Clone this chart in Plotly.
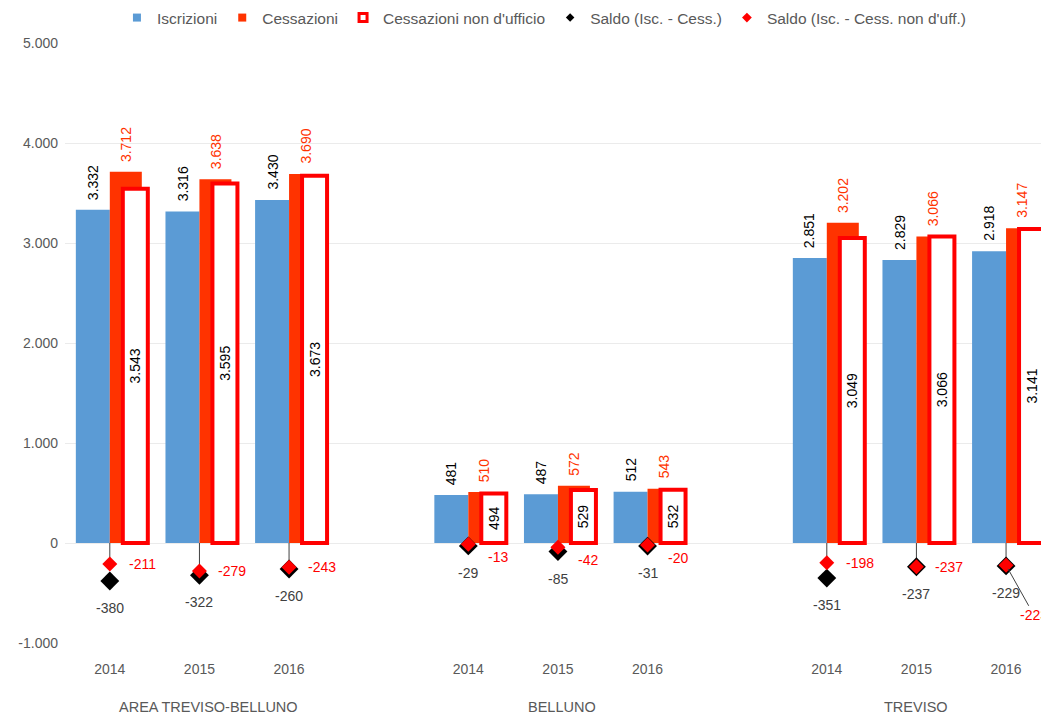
import plotly.graph_objects as go

groups = ["AREA TREVISO-BELLUNO", "BELLUNO", "TREVISO"]
years = ["2014", "2015", "2016"]
iscrizioni = [3332, 3316, 3430, 481, 487, 512, 2851, 2829, 2918]
cessazioni = [3712, 3638, 3690, 510, 572, 543, 3202, 3066, 3147]
cess_non_uff = [3543, 3595, 3673, 494, 529, 532, 3049, 3066, 3141]
saldo = [-380, -322, -260, -29, -85, -31, -351, -237, -229]
saldo_non_uff = [-211, -279, -243, -13, -42, -20, -198, -237, -223]
y_ticks = [-1000, 0, 1000, 2000, 3000, 4000, 5000]
y_tick_labels = ["-1.000", "0", "1.000", "2.000", "3.000", "4.000", "5.000"]

FONT = "Liberation Sans, Arial, sans-serif"
GRAY = "#595959"
BLUE = "#5B9BD5"
ORANGE = "#FF3300"
RED = "#FF0000"


def fmt(v):
    return f"{v:,}".replace(",", ".")


# slot positions: one empty slot between groups
xs = [g * 4 + y for g in range(len(groups)) for y in range(len(years))]
tick_text = [years[y] for g in range(len(groups)) for y in range(len(years))]

BW_BLUE, OFF_BLUE = 0.379, -0.379
BW_OR, OFF_OR = 0.357, 0.0
BW_OUT, OFF_OUT = 0.279, 0.145

fig = go.Figure()

fig.add_trace(go.Bar(x=xs, y=iscrizioni, offset=OFF_BLUE, width=BW_BLUE,
                     marker=dict(color=BLUE, line=dict(width=0)),
                     showlegend=False, name="Iscrizioni"))
fig.add_trace(go.Bar(x=xs, y=cessazioni, offset=OFF_OR, width=BW_OR,
                     marker=dict(color=ORANGE, line=dict(width=0)),
                     showlegend=False, name="Cessazioni"))
fig.add_trace(go.Bar(x=xs, y=cess_non_uff, offset=OFF_OUT, width=BW_OUT,
                     marker=dict(color="white", line=dict(color=RED, width=4)),
                     text=[fmt(v) for v in cess_non_uff], textposition="inside",
                     textangle=-90, insidetextanchor="middle",
                     textfont=dict(color="black", size=14, family=FONT),
                     showlegend=False, name="Cessazioni non d'ufficio"))

# leader lines from zero to the red diamonds
lx, ly = [], []
for x, v in zip(xs, saldo_non_uff):
    lx += [x, x, None]
    ly += [0, v, None]
fig.add_trace(go.Scatter(x=lx, y=ly, mode="lines",
                         line=dict(color="#404040", width=1),
                         showlegend=False, hoverinfo="skip"))

fig.add_trace(go.Scatter(x=xs, y=saldo, mode="markers",
                         marker=dict(symbol="diamond", size=14.5, color="black"),
                         showlegend=False, name="Saldo (Isc. - Cess.)"))
fig.add_trace(go.Scatter(x=xs, y=saldo_non_uff, mode="markers",
                         marker=dict(symbol="diamond", size=11.5, color=RED),
                         showlegend=False, name="Saldo (Isc. - Cess. non d'uff.)"))

# legend entries
legend_items = [
    ("Iscrizioni", dict(symbol="square", size=8, color=BLUE)),
    ("Cessazioni", dict(symbol="square", size=8, color=ORANGE)),
    ("Cessazioni non d'ufficio", dict(symbol="square", size=8, color="white",
                                      line=dict(color=RED, width=3))),
    ("Saldo (Isc. - Cess.)", dict(symbol="diamond", size=6.5, color="black")),
    ("Saldo (Isc. - Cess. non d'uff.)", dict(symbol="diamond", size=7.5, color=RED)),
]
for name, mk in legend_items:
    fig.add_trace(go.Scatter(x=[None], y=[None], mode="markers", name=name,
                             marker=mk, showlegend=True))

annotations = []
for i, x in enumerate(xs):
    annotations.append(dict(x=x + OFF_BLUE + BW_BLUE / 2, y=iscrizioni[i], xref="x", yref="y",
                            text=fmt(iscrizioni[i]), textangle=-90, showarrow=False,
                            yanchor="bottom", xanchor="center", yshift=8,
                            font=dict(color="black", size=14, family=FONT)))
    annotations.append(dict(x=x + OFF_OR + BW_OR / 2, y=cessazioni[i], xref="x", yref="y",
                            text=fmt(cessazioni[i]), textangle=-90, showarrow=False,
                            yanchor="bottom", xanchor="center", yshift=8,
                            font=dict(color=ORANGE, size=14, family=FONT)))
    annotations.append(dict(x=x, y=saldo[i], xref="x", yref="y", text=fmt(saldo[i]),
                            showarrow=False, yshift=-27,
                            font=dict(color="#404040", size=14, family=FONT)))
    grp = i // 3
    if i == len(xs) - 1:
        annotations.append(dict(x=x, y=saldo_non_uff[i], xref="x", yref="y",
                                text=fmt(saldo_non_uff[i]), showarrow=True,
                                arrowhead=0, arrowwidth=1, arrowcolor="#404040",
                                ax=28, ay=50, standoff=4,
                                font=dict(color=RED, size=14, family=FONT)))
    else:
        annotations.append(dict(x=x, y=saldo_non_uff[i], xref="x", yref="y",
                                text=fmt(saldo_non_uff[i]), showarrow=False,
                                xanchor="left", xshift=17 if grp != 1 else 18,
                                yshift=0 if grp != 1 else -13,
                                font=dict(color=RED, size=14, family=FONT)))

for g, name in enumerate(groups):
    annotations.append(dict(x=g * 4 + 1 + (0.1 if g == 0 else 0.04 if g == 1 else 0),
                            y=-0.1067, xref="x", yref="paper", text=name,
                            showarrow=False, yanchor="middle",
                            font=dict(color=GRAY, size=14.5, family=FONT)))

fig.update_layout(
    width=1041, height=718,
    margin=dict(l=65, r=0, t=43, b=75),
    barmode="overlay",
    plot_bgcolor="white", paper_bgcolor="white",
    font=dict(family=FONT, color=GRAY, size=14),
    annotations=annotations,
    legend=dict(orientation="h", xref="container", yref="container",
                x=0.523, xanchor="center", y=1 - 18 / 718, yanchor="middle",
                font=dict(size=15.5, color=GRAY, family=FONT),
                itemwidth=30, tracegroupgap=0),
    xaxis=dict(range=[-0.5, 10.39], tickvals=xs, ticktext=tick_text,
               showgrid=False, zeroline=False, showline=False,
               tickfont=dict(size=14, color=GRAY), ticklabelstandoff=16),
    yaxis=dict(range=[-1000, 5000], tickvals=y_ticks, ticktext=y_tick_labels,
               showgrid=True, gridcolor="#EBEBEB", gridwidth=1, zeroline=False,
               showline=False, tickfont=dict(size=14, color=GRAY),
               ticklabelstandoff=6),
)

fig.write_html("out.html", config={"displayModeBar": False},
               post_script="document.body.style.margin='0';")
